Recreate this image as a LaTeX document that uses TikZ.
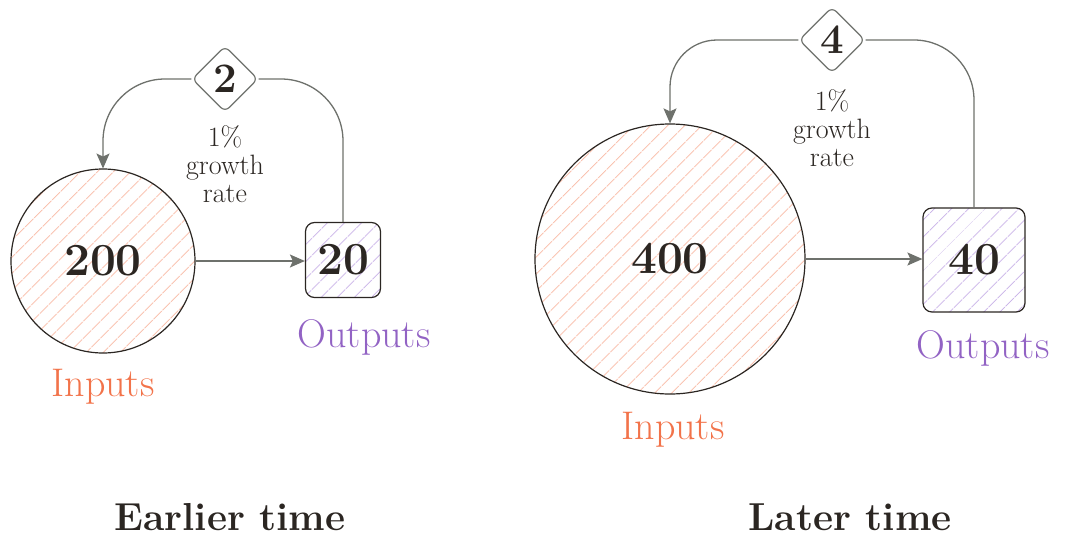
\documentclass[tikz,border=0pt]{standalone}
\usepackage{fontspec}
\usetikzlibrary{shapes.geometric,arrows.meta,patterns.meta}
\definecolor{ink}{HTML}{2B2622}
\definecolor{wire}{HTML}{6E716C}
\definecolor{inhatch}{HTML}{F8B6A0}
\definecolor{outhatch}{HTML}{C6AEE6}
\definecolor{intext}{HTML}{F2734A}
\definecolor{outtext}{HTML}{9263C4}
\tikzset{
  x=1pt, y=-1pt,
  stock/.style={circle, draw=ink, line width=1.2pt, inner sep=0pt,
    pattern={Lines[angle=45,distance=13pt,line width=0.9pt]}, pattern color=inhatch,
    text=ink, font=\fontsize{46}{48}\selectfont\bfseries},
  flowbox/.style={rectangle, rounded corners=9pt, draw=ink, line width=1.2pt, inner sep=0pt,
    pattern={Lines[angle=45,distance=13pt,line width=0.9pt]}, pattern color=outhatch,
    text=ink, font=\fontsize{46}{48}\selectfont\bfseries},
  gain/.style={diamond, rounded corners=6pt, draw=wire, fill=white, line width=1.2pt,
    minimum width=66pt, minimum height=66pt, inner sep=0pt, aspect=1,
    text=ink, font=\fontsize{42}{44}\selectfont\bfseries},
  wireline/.style={draw=wire, line width=1.3pt},
  flowarrow/.style={wireline, -{Stealth[length=15pt,width=13pt,inset=3pt]}},
  note/.style={align=center, text=ink, font=\fontsize{28}{28}\selectfont},
  tag/.style={font=\fontsize{40}{42}\selectfont},
  heading/.style={text=ink, font=\fontsize{39}{42}\selectfont\bfseries}
}
\begin{document}
\begin{tikzpicture}
\useasboundingbox (0,0) rectangle (1066,538);

% earlier time
\node[stock, minimum size=184pt] (in1) at (103,261) {200};
\node[flowbox, minimum width=75pt, minimum height=75pt] (out1) at (343,260) {20};
\node[gain] (g1) at (225,79) {2};
\draw[flowarrow] (in1.east) -- (out1.west |- in1.east);
\draw[flowarrow, rounded corners=62pt] (g1.west) -| (in1.north);
\draw[wireline, rounded corners=62pt] (g1.east) -| (out1.north);
\node[note] (r1) at (225,164) {1\%\\growth\\rate};
\node[tag, text=outtext] (o1) at (364,337) {Outputs};
\node[tag, text=intext] (i1) at (103,387) {Inputs};
\node[heading] (h1) at (230,517) {Earlier time};

% later time
\node[stock, minimum size=270pt] (in2) at (670,259) {400};
\node[flowbox, minimum width=102pt, minimum height=104pt] (out2) at (974,260) {40};
\node[gain] (g2) at (832,40) {4};
\draw[flowarrow] (in2.east) -- (out2.west |- in2.east);
\draw[flowarrow, rounded corners=47pt] (g2.west) -| (in2.north);
\draw[wireline, rounded corners=60pt] (g2.east) -| (out2.north);
\node[note] (r2) at (832,128) {1\%\\growth\\rate};
\node[tag, text=outtext] (o2) at (983,348) {Outputs};
\node[tag, text=intext] (i2) at (673,430) {Inputs};
\node[heading] (h2) at (850,517) {Later time};
\end{tikzpicture}
\end{document}
